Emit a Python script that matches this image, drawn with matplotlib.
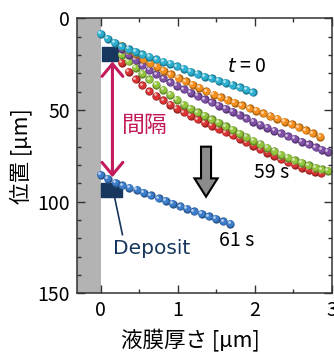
import numpy as np
import matplotlib
matplotlib.use("Agg")
import matplotlib.pyplot as plt
from matplotlib.patches import Rectangle, FancyArrow, FancyArrowPatch, ArrowStyle
from matplotlib.ticker import MultipleLocator
from matplotlib.transforms import offset_copy
from matplotlib.colors import to_rgb

plt.rcParams['font.family'] = ['Noto Sans CJK JP', 'DejaVu Sans']

# 液滴の位置データ (x: 液膜厚さ µm, y: 位置 µm)
cyan_x = [0.00, 0.09, 0.18, 0.27, 0.36, 0.45, 0.54, 0.63, 0.72, 0.81, 0.90, 0.99,
          1.08, 1.17, 1.26, 1.35, 1.44, 1.53, 1.62, 1.71, 1.80, 1.89, 1.97]
cyan_y = [8.4, 11.0, 13.3, 15.3, 16.8, 18.2, 19.6, 21.0, 22.3, 23.6, 24.9, 26.2,
          27.5, 29.0, 30.4, 31.8, 32.8, 33.9, 35.2, 36.4, 37.7, 39.0, 40.4]

orange_x = [0.27, 0.36, 0.45, 0.55, 0.64, 0.73, 0.82, 0.91, 1.01, 1.10, 1.19, 1.28,
            1.37, 1.47, 1.56, 1.65, 1.74, 1.83, 1.93, 2.02, 2.11, 2.20, 2.29, 2.39,
            2.48, 2.57, 2.66, 2.75, 2.85]
orange_y = [15.1, 17.1, 19.3, 22.2, 24.4, 26.4, 28.6, 30.6, 32.6, 34.4, 36.2, 37.8,
            39.8, 41.6, 43.1, 44.6, 46.0, 47.5, 49.0, 50.5, 51.9, 53.3, 54.8, 56.3,
            57.8, 59.4, 61.0, 62.8, 64.7]

purple_x = [0.27, 0.36, 0.45, 0.54, 0.63, 0.72, 0.81, 0.90, 0.99, 1.08, 1.17, 1.26,
            1.35, 1.44, 1.53, 1.62, 1.71, 1.80, 1.89, 1.98, 2.07, 2.16, 2.25, 2.34,
            2.43, 2.52, 2.61, 2.70, 2.79, 2.87, 2.95]
purple_y = [16.6, 19.8, 22.8, 25.6, 28.2, 30.6, 32.8, 34.9, 36.9, 38.8, 40.6, 42.4,
            44.2, 45.9, 47.6, 49.3, 51.1, 52.8, 54.6, 56.4, 58.1, 59.7, 61.3, 62.8,
            64.3, 65.8, 67.3, 68.8, 70.3, 71.6, 72.9]

green_x = purple_x
green_y = [20.0, 23.5, 27.0, 30.3, 33.3, 36.2, 39.0, 41.8, 44.5, 47.2, 49.4, 51.3,
           53.2, 55.1, 57.0, 58.9, 60.9, 62.9, 64.8, 66.7, 68.6, 70.5, 72.4, 74.3,
           76.0, 77.5, 78.9, 80.2, 81.4, 82.4, 83.3]

red_x = [0.27, 0.36, 0.45, 0.54, 0.63, 0.72, 0.81, 0.90, 0.99, 1.08, 1.17, 1.26,
         1.35, 1.44, 1.53, 1.62, 1.71, 1.80, 1.89, 1.98, 2.07, 2.16, 2.25, 2.34,
         2.43, 2.52, 2.61, 2.70, 2.78, 2.86]
red_y = [24.2, 29.0, 33.2, 36.6, 39.8, 42.4, 44.8, 47.0, 49.2, 51.3, 53.2, 55.0,
         56.9, 58.6, 60.4, 62.1, 63.9, 65.7, 67.6, 69.5, 71.4, 73.3, 75.1, 76.9,
         78.6, 80.0, 81.4, 82.6, 83.6, 84.6]

blue_x = [0.00, 0.09, 0.19, 0.28, 0.37, 0.47, 0.56, 0.65, 0.75, 0.84, 0.93, 1.03,
          1.12, 1.21, 1.31, 1.40, 1.49, 1.59, 1.68]
blue_y = [85.3, 87.5, 89.6, 91.1, 92.3, 93.6, 95.1, 96.6, 98.2, 99.6, 101.1, 102.5,
          103.9, 105.2, 106.7, 108.0, 109.3, 110.7, 112.0]

# 描画順 (下から)
series = [
    (red_x, red_y, '#d83434'),
    (green_x, green_y, '#92c43e'),
    (purple_x, purple_y, '#7f50a6'),
    (orange_x, orange_y, '#f5901e'),
    (cyan_x, cyan_y, '#2eb0d0'),
    (blue_x, blue_y, '#3d7ecc'),
]

crimson = '#c21a5b'
navy = '#17375e'


def mix(c, other, f):
    c = np.array(to_rgb(c))
    return tuple(c * (1 - f) + np.array(other) * f)


fig = plt.figure(figsize=(3.34, 3.52), dpi=100)
ax = fig.add_axes([0.2305, 0.1668, 0.7635, 0.781])

ax.set_xlim(-0.31, 3.0)
ax.set_ylim(150, 0)

# 基板 (灰色)
ax.axvspan(-0.31, 0, color='#b3b3b3', lw=0, zorder=1)

# Deposit の四角
ax.add_patch(Rectangle((0.02, 15.5), 0.20, 7.6, color=navy, zorder=2))
ax.add_patch(Rectangle((0.0, 89.7), 0.27, 8.0, color=navy, zorder=2))

# 球のような点
hi1 = offset_copy(ax.transData, fig=fig, x=-0.4, y=0.4, units='points')
hi2 = offset_copy(ax.transData, fig=fig, x=-1.2, y=1.2, units='points')
z = 3
for xs, ys, c in series:
    ax.scatter(xs, ys, s=36, color=mix(c, (0, 0, 0), 0.3), lw=0, zorder=z)
    ax.scatter(xs, ys, s=24, color=c, lw=0, zorder=z + 0.1, transform=hi1)
    ax.scatter(xs, ys, s=4, color=mix(c, (1, 1, 1), 0.65), lw=0, zorder=z + 0.2,
               transform=hi2)
    z += 1

# 間隔の矢印
arr = FancyArrowPatch((0.15, 22.0), (0.15, 88.2),
                      arrowstyle=ArrowStyle('<->', head_length=0.9, head_width=0.75),
                      mutation_scale=10, color=crimson, lw=2.2, zorder=20)
ax.add_patch(arr)
ax.text(0.28, 58.7, '間隔', color=crimson, fontsize=16.5, ha='left', va='center',
        zorder=20)

# 灰色の下向き矢印
ax.add_patch(FancyArrow(1.365, 70, 0, 27.3, width=0.13, head_width=0.30,
                        head_length=10, length_includes_head=True,
                        fc='#8c8c8c', ec='black', lw=1.5, zorder=20))

# ラベル
ax.text(1.64, 26.4, '$t$ = 0', fontsize=14, ha='left', va='center', zorder=20)
ax.text(1.99, 84.2, '59 s', fontsize=14, ha='left', va='center', zorder=20)
ax.text(1.53, 121, '61 s', fontsize=14, ha='left', va='center', zorder=20)

ax.plot([0.18, 0.28], [98.0, 118.0], color=navy, lw=1.2, zorder=20)
ax.text(0.16, 125.4, 'Deposit', color=navy, fontsize=14.5, ha='left', va='center',
        family='DejaVu Sans', zorder=20)

# 軸
ax.set_xticks([0, 1, 2, 3])
ax.set_yticks([0, 50, 100, 150])
ax.xaxis.set_minor_locator(MultipleLocator(0.5))
ax.yaxis.set_minor_locator(MultipleLocator(10))
ax.tick_params(which='both', direction='in', top=True, right=True, width=1,
               color='#333333', labelsize=14)
ax.tick_params(which='major', length=5.5, pad=5)
ax.tick_params(which='minor', length=3)
for sp in ax.spines.values():
    sp.set_linewidth(1.1)
    sp.set_color('#333333')
    sp.set_zorder(30)

ax.set_xlabel('液膜厚さ [μm]', fontsize=15.5)
ax.set_ylabel('位置 [μm]', fontsize=15.5)
ax.xaxis.set_label_coords(0.443, -0.126)
ax.yaxis.set_label_coords(-0.176, 0.5)

fig.savefig('out.png', dpi=100)
